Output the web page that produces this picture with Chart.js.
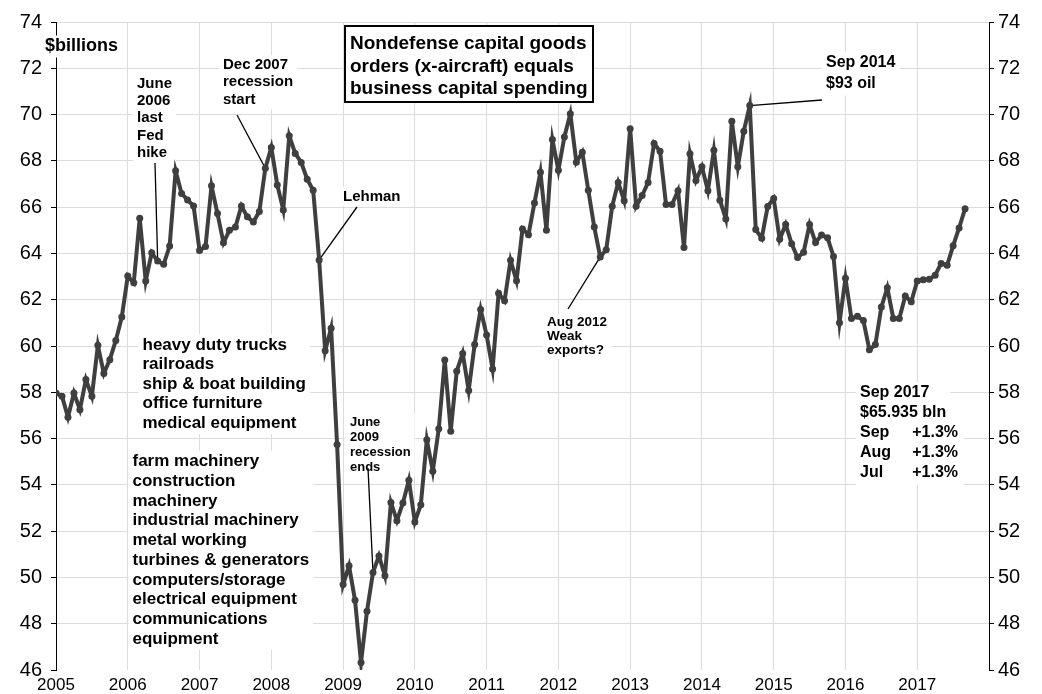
<!DOCTYPE html>
<html><head><meta charset="utf-8">
<script src="https://cdn.jsdelivr.net/npm/chart.js@4"></script>
<style>html,body{margin:0;padding:0;background:#fff}#wrap{width:1042px;height:694px;position:relative}</style>
</head><body><div id="wrap"><canvas id="c" width="1042" height="694"></canvas></div>
<script>
// ---- data (monthly, Jan 2005 .. Sep 2017), $billions ----
const yearLabels = ['2005','2006','2007','2008','2009','2010','2011','2012','2013','2014','2015','2016','2017'];
const orders2005 = [57.97,57.83,56.92,57.97,57.25,58.55,57.83,60.03,58.81,59.41,60.24,61.25];
const orders2006 = [63.02,62.73,65.52,62.81,64.03,63.67,63.53,64.32,67.57,66.59,66.31,66.05];
const orders2007 = [64.13,64.30,66.92,65.72,64.46,65.00,65.14,66.05,65.58,65.36,65.81,67.68];
const orders2008 = [68.58,66.96,65.88,69.08,68.32,67.93,67.21,66.73,63.72,59.79,60.77,55.74];
const orders2009 = [49.69,50.50,49.01,46.32,48.54,50.21,50.93,50.07,53.24,52.45,53.22,54.20];
const orders2010 = [52.40,53.14,55.95,54.59,56.42,59.39,56.32,58.91,59.68,58.08,60.07,61.58];
const orders2011 = [60.47,59.01,62.28,61.95,63.70,62.82,65.06,64.81,66.18,67.51,65.00,68.92];
const orders2012 = [67.59,69.03,70.04,67.94,68.37,66.73,65.14,63.85,64.16,66.04,67.07,66.28];
const orders2013 = [69.39,66.04,66.50,67.07,68.75,68.41,66.11,66.11,66.71,64.26,68.31,67.15];
const orders2014 = [67.74,66.71,68.46,66.30,65.49,69.71,67.74,69.28,70.39,65.03,64.66,66.03];
const orders2015 = [66.37,64.61,65.25,64.42,63.82,64.05,65.25,64.47,64.80,64.68,63.87,61.00];
const orders2016 = [62.93,61.19,61.29,61.10,59.84,60.06,61.68,62.52,61.19,61.19,62.16,61.91];
const orders2017 = [62.81,62.86,62.88,63.06,63.57,63.49,64.33,65.10,65.935];
const orders = [].concat(orders2005,orders2006,orders2007,orders2008,orders2009,orders2010,
  orders2011,orders2012,orders2013,orders2014,orders2015,orders2016,orders2017);
const yMin = 46, yMax = 74, yStep = 2;

// ---- annotations (text) ----
const FONT = 'Liberation Sans, Arial, sans-serif';
const textBlocks = [
  {lines:['$billions'], x:45, y:46.5, lh:20, size:18},
  {lines:['June','2006','last','Fed','hike'], x:137, y:83.5, lh:17.3, size:15},
  {lines:['Dec 2007','recession','start'], x:223, y:65, lh:17.3, size:15},
  {lines:['Lehman'], x:343, y:196.5, lh:17, size:15},
  {lines:['heavy duty trucks','railroads','ship & boat building','office furniture','medical equipment'], x:142.5, y:345, lh:19.6, size:17},
  {lines:['farm machinery','construction','machinery','industrial machinery','metal working','turbines & generators','computers/storage','electrical equipment','communications','equipment'], x:132.5, y:461.5, lh:19.75, size:17},
  {lines:['June','2009','recession','ends'], x:350, y:422, lh:15.3, size:13},
  {lines:['Aug 2012','Weak','exports?'], x:547, y:322.5, lh:14, size:13.5},
  {lines:['Sep 2014','$93 oil'], x:826, y:63, lh:21, size:16},
  {lines:['Sep 2017','$65.935 bln'], x:860, y:393, lh:20, size:16}
];
const changeRows = [['Sep','+1.3%'],['Aug','+1.3%'],['Jul','+1.3%']];
const titleLines = ['Nondefense capital goods','orders (x-aircraft) equals','business capital spending'];
const pointers = [
  {from:[155,163], idx:17},
  {from:[237,115], idx:35},
  {from:[357,207], idx:44},
  {from:[368,468], idx:53},
  {from:[568,309], idx:91},
  {from:[822,100], idx:116}
];

const annot = {
  id:'annot',
  beforeDatasetsDraw(chart){
    const c = chart.ctx, xs = chart.scales.x, ys = chart.scales.y;
    c.save();
    c.textBaseline = 'middle';
    c.textAlign = 'left';
    const block = (b) => {
      c.font = `bold ${b.size}px ${FONT}`;
      let w = 0; b.lines.forEach(t => w = Math.max(w, c.measureText(t).width));
      const pad = 4;
      c.fillStyle = '#fff';
      c.fillRect(b.x - pad, b.y - b.lh/2 - 1, w + 2*pad, b.lh*b.lines.length + 2);
      c.fillStyle = '#000';
      b.lines.forEach((t,i) => c.fillText(t, b.x, b.y + i*b.lh));
    };
    textBlocks.forEach(block);
    // change rows
    c.font = `bold 16px ${FONT}`;
    c.fillStyle = '#fff';
    c.fillRect(856, 423, 108, 62);
    c.fillStyle = '#000';
    changeRows.forEach((r,i) => {
      c.textAlign = 'left'; c.fillText(r[0], 860, 433 + i*20);
      c.textAlign = 'right'; c.fillText(r[1], 958, 433 + i*20);
    });
    c.textAlign = 'left';
    // title box
    c.fillStyle = '#fff';
    c.fillRect(345, 26, 248, 76);
    c.strokeStyle = '#000'; c.lineWidth = 2;
    c.strokeRect(345, 26, 248, 76);
    c.fillStyle = '#000';
    c.font = `bold 19px ${FONT}`;
    titleLines.forEach((t,i) => c.fillText(t, 350, 44 + i*22.3));
    // pointer lines
    c.strokeStyle = '#000'; c.lineWidth = 1.3;
    pointers.forEach(p => {
      c.beginPath();
      c.moveTo(p.from[0], p.from[1]);
      c.lineTo(xs.getPixelForValue(p.idx), ys.getPixelForValue(orders[p.idx]));
      c.stroke();
    });
    c.restore();
  }
};

Chart.defaults.font.family = FONT;
new Chart(document.getElementById('c'), {
  type:'line',
  data:{datasets:[{
    data: orders.map((v,i)=>({x:i, y:v})),
    borderColor:'#3f3f3f', backgroundColor:'#3f3f3f',
    borderWidth:4, pointRadius:3.5, pointBorderWidth:0,
    pointBackgroundColor:'#3f3f3f', tension:0
  }]},
  options:{
    responsive:false, animation:false, devicePixelRatio:1,
    layout:{padding:{top:22,left:0,right:0,bottom:0}},
    plugins:{legend:{display:false}, tooltip:{enabled:false}},
    scales:{
      x:{type:'linear', min:0, max:yearLabels.length*12,
        ticks:{stepSize:12, autoSkip:false, maxRotation:0, padding:5, color:'#000',
          font:{size:17}, callback:(v)=> (v%12===0 && yearLabels[v/12]) ? yearLabels[v/12] : ''},
        grid:{color:'#dcdcdc', drawTicks:false, lineWidth:1},
        border:{display:false},
        afterFit:(s)=>{ s.height = 24; }
      },
      y:{position:'left', min:yMin, max:yMax,
        ticks:{stepSize:yStep, padding:9, color:'#000', font:{size:20}},
        grid:{color:(ctx)=> ctx.tick && ctx.tick.value===yMin ? 'rgba(0,0,0,0)' : '#dcdcdc', tickColor:'#000', tickLength:5},
        border:{display:true, color:'#000', width:1},
        afterFit:(s)=>{ s.width = 56; }
      },
      y2:{position:'right', min:yMin, max:yMax,
        ticks:{stepSize:yStep, padding:4, color:'#000', font:{size:20}},
        grid:{drawOnChartArea:false, tickColor:'#000', tickLength:5},
        border:{display:true, color:'#000', width:1},
        afterFit:(s)=>{ s.width = 53; }
      }
    }
  },
  plugins:[annot]
});
</script></body></html>
